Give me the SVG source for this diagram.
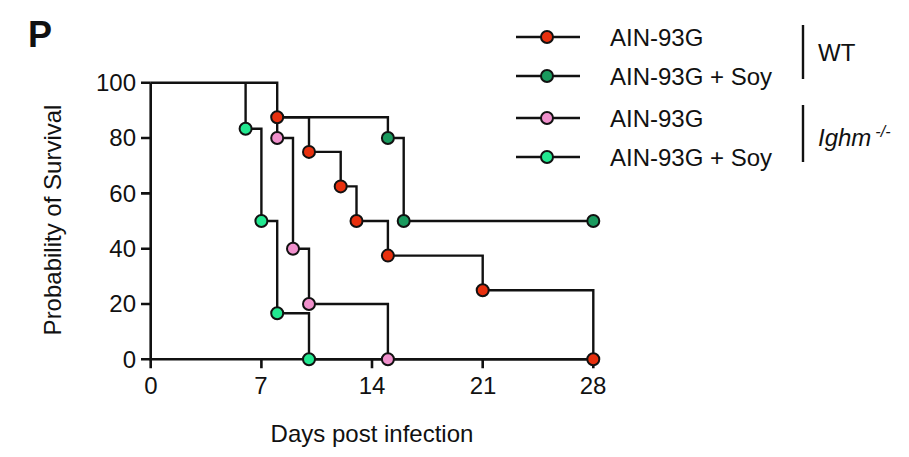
<svg xmlns="http://www.w3.org/2000/svg" width="909" height="457" viewBox="0 0 909 457">
<style>
text{font-family:"Liberation Sans",Arial,sans-serif;font-size:24px;fill:#111}
.ax{stroke:#111;stroke-width:2.6;fill:none}
.ln{stroke:#111;stroke-width:2.4;fill:none}
circle{stroke:#111;stroke-width:2}
.r{fill:#e8300e}.g{fill:#1a9a5e}.p{fill:#f090cc}.l{fill:#22e890}
.yt{text-anchor:end}.xt{text-anchor:middle}
</style>
<rect width="909" height="457" fill="#fff"/>
<text x="28" y="47" style="font-size:36px;font-weight:bold">P</text>
<g id="axes">
<path class="ax" d="M150.7 82.7V359.3H593.3"/>
<path class="ax" d="M141 82.7h9.7M141 138h9.7M141 193.4h9.7M141 248.7h9.7M141 304h9.7M141 359.3h9.7M150.7 359.3v9M261.4 359.3v9M372 359.3v9M482.7 359.3v9M593.3 359.3v9"/>
<g class="yt"><text x="136" y="91">100</text><text x="136" y="146">80</text><text x="136" y="202">60</text><text x="136" y="257">40</text><text x="136" y="312">20</text><text x="136" y="368">0</text></g>
<g class="xt"><text x="151" y="394">0</text><text x="261" y="394">7</text><text x="372" y="394">14</text><text x="483" y="394">21</text><text x="593" y="394">28</text></g>
<text class="xt" x="372" y="442">Days post infection</text>
<text class="xt" transform="translate(61 220) rotate(-90)">Probability of Survival</text>
</g>
<g id="connectors">
<path class="ln" d="M150.7 82.7H277.2V117.3H387.9V138H403.7V221H593.3"/>
<path class="ln" d="M277.2 117.3H309V151.9H340.7V186.4H356.5V221H387.9V255.6H482.7V290.2H593.3V359.3"/>
<path class="ln" d="M277.2 117.3V138H293V248.7H309V304H387.9V359.3"/>
<path class="ln" d="M245.6 82.7V128.8H261.4V221H277.2V313.2H309V359.3H593.3"/>
</g>
<g id="series-wt-soy">
<circle class="g" cx="387.9" cy="138" r="6"/><circle class="g" cx="403.7" cy="221" r="6"/><circle class="g" cx="593.3" cy="221" r="6"/>
</g>
<g id="series-wt-ain">
<circle class="r" cx="277.2" cy="117.3" r="6"/><circle class="r" cx="309" cy="151.9" r="6"/><circle class="r" cx="340.7" cy="186.4" r="6"/><circle class="r" cx="356.5" cy="221" r="6"/><circle class="r" cx="387.9" cy="255.6" r="6"/><circle class="r" cx="482.7" cy="290.2" r="6"/><circle class="r" cx="593.3" cy="359.3" r="6"/>
</g>
<g id="series-ighm-ain">
<circle class="p" cx="277.2" cy="138" r="6"/><circle class="p" cx="293" cy="248.7" r="6"/><circle class="p" cx="309" cy="304" r="6"/><circle class="p" cx="387.9" cy="359.3" r="6"/>
</g>
<g id="series-ighm-soy">
<circle class="l" cx="245.6" cy="128.8" r="6"/><circle class="l" cx="261.4" cy="221" r="6"/><circle class="l" cx="277.2" cy="313.2" r="6"/><circle class="l" cx="309" cy="359.3" r="6"/>
</g>
<g id="legend">
<path class="ln" d="M516 37h64M516 76h64M516 118h64M516 157h64M803 25v54M803 105v57"/>
<circle class="r" cx="547" cy="37" r="6"/><circle class="g" cx="547" cy="76" r="6"/><circle class="p" cx="547" cy="118" r="6"/><circle class="l" cx="547" cy="157" r="6"/>
<text x="610" y="46">AIN-93G</text><text x="610" y="85">AIN-93G + Soy</text><text x="610" y="127">AIN-93G</text><text x="610" y="166">AIN-93G + Soy</text>
<text x="818" y="61">WT</text>
<text x="818" y="146" style="font-style:italic">Ighm<tspan dx="4" dy="-9" style="font-size:16px">-/-</tspan></text>
</g>
</svg>
